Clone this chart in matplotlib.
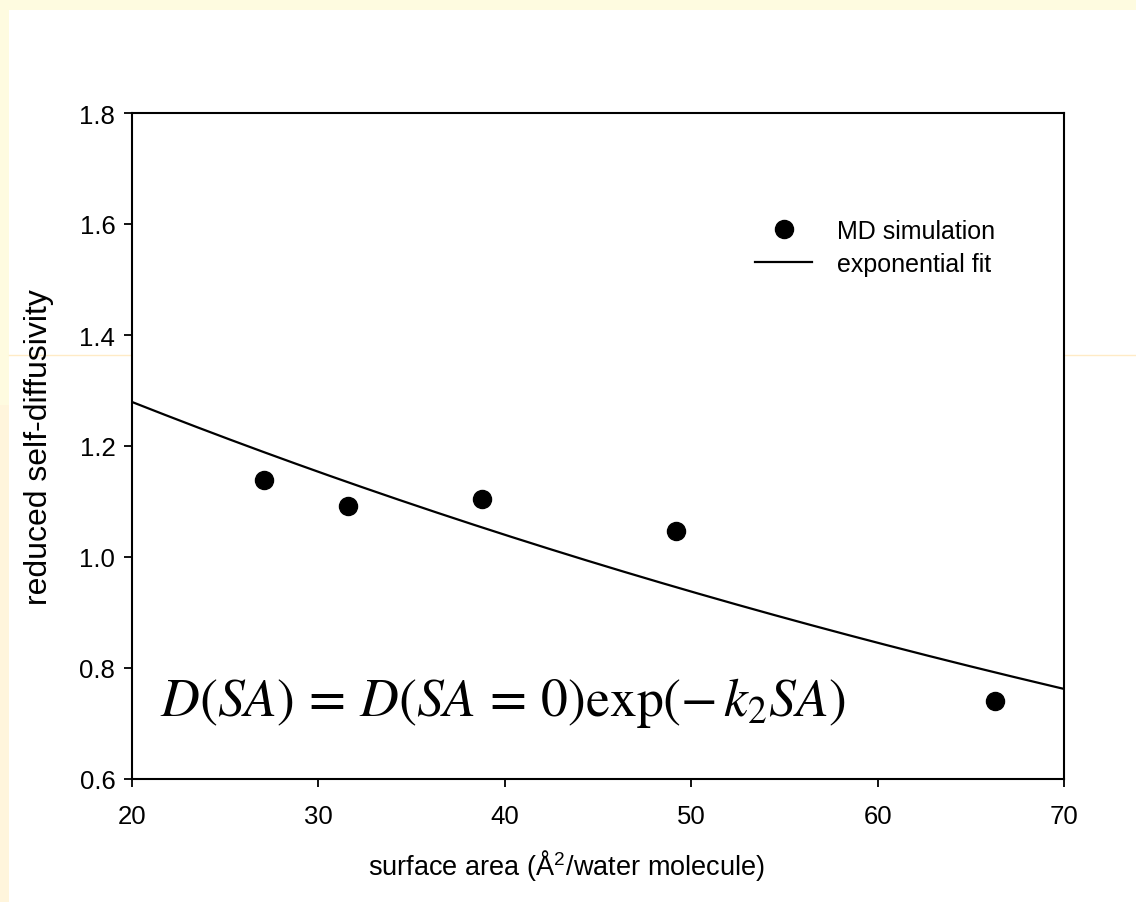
import numpy as np
import matplotlib
matplotlib.use("Agg")
import matplotlib.pyplot as plt
from matplotlib.patches import Rectangle
from matplotlib.lines import Line2D

# MD simulation points
surface_area = np.array([27.08, 31.6, 38.8, 49.17, 66.28])
diffusivity = np.array([1.139, 1.091, 1.104, 1.047, 0.741])

x_ticks = [20, 30, 40, 50, 60, 70]
y_ticks = [0.6, 0.8, 1.0, 1.2, 1.4, 1.6, 1.8]

# exponential fit D = D0 exp(-k SA), done as a straight line through log(D)
slope, intercept = np.polyfit(surface_area, np.log(diffusivity), 1)
sa_fit = np.linspace(20, 70, 200)
d_fit = np.exp(intercept) * np.exp(slope * sa_fit)

plt.rcParams['font.family'] = ['Liberation Sans', 'DejaVu Sans']
plt.rcParams['mathtext.fontset'] = 'stix'

fig = plt.figure(figsize=(11.36, 9.03), dpi=100)
fig.patch.set_facecolor('#FEFBE0')

# slide background: white page, pale strips on top and left
fig.patches.append(Rectangle((9 / 1136, 0), 1, 1 - 11 / 903, transform=fig.transFigure,
                             facecolor='white', edgecolor='none', zorder=-5))
fig.patches.append(Rectangle((0, 0), 9 / 1136, 0.55, transform=fig.transFigure,
                             facecolor='#FFF5DC', edgecolor='none', zorder=-5))
fig.lines.append(Line2D([9 / 1136, 1], [1 - 356 / 903] * 2, transform=fig.transFigure,
                        color='#FFEBC6', lw=1, zorder=-4))

ax = fig.add_axes([132 / 1136, 1 - 780 / 903, (1064 - 132) / 1136, (780 - 114) / 903])

ax.plot(surface_area, diffusivity, 'o', color='black', markersize=13, label='MD simulation')
ax.plot(sa_fit, d_fit, '-', color='black', lw=1.6, label='exponential fit')

ax.set_xlim(20, 70)
ax.set_ylim(0.6, 1.8)
ax.set_xticks(x_ticks)
ax.set_yticks(y_ticks)
ax.set_yticklabels([f'{v:.1f}' for v in y_ticks])

for s in ax.spines.values():
    s.set_linewidth(1.5)
ax.tick_params(direction='out', length=6, width=1.3, labelsize=18.5, pad=6)
ax.tick_params(axis='x', pad=12)

ax.set_xlabel(r'surface area (Å$^\mathregular{2}$/water molecule)', fontsize=19.5)
ax.xaxis.set_label_coords(0.466, -0.102)
ax.set_ylabel('reduced self-diffusivity', fontsize=23, labelpad=18)

ax.legend(loc='upper left', bbox_to_anchor=(0.655, 0.86), frameon=False, fontsize=18,
          borderpad=0, handlelength=2.3, handletextpad=1.0, labelspacing=0.38)

ax.text(0.03, 0.115,
        r'$D\left(SA\right)\,=\,D\left(SA\,=\,0\right)\mathrm{exp}\left(-\,k_2SA\right)$',
        transform=ax.transAxes, fontsize=38.6, ha='left', va='center')

fig.savefig('out.png', dpi=100, facecolor=fig.get_facecolor())
